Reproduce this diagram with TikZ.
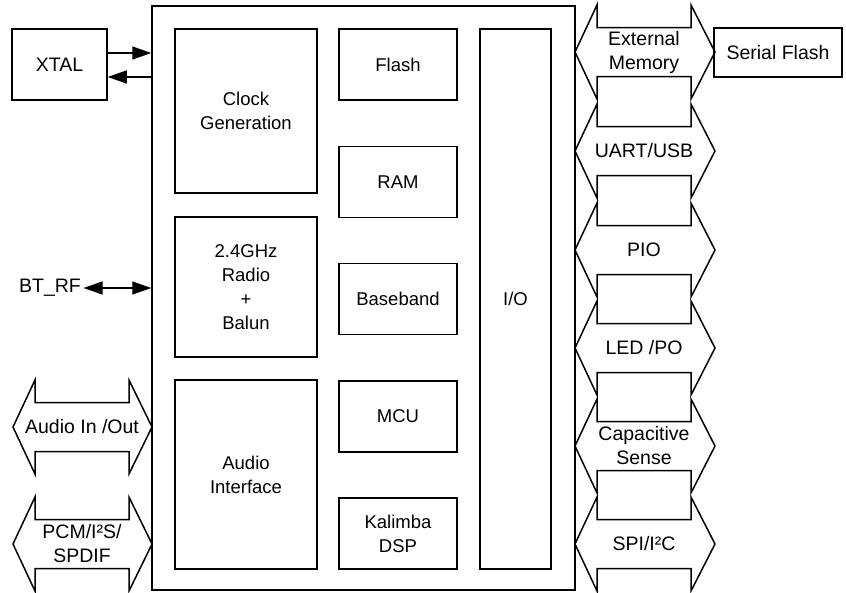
\documentclass[tikz,border=0pt]{standalone}
\usepackage{fontspec}
\setmainfont{Liberation Sans}
\usetikzlibrary{arrows.meta, positioning, calc}

\begin{document}
\begin{tikzpicture}[x=1pt, y=-1pt, line width=1.5pt,
        font=\fontsize{18.5}{24}\selectfont,
        blok/.style={draw, align=center, inner sep=0pt},
        bus/.style={draw, line join=miter},
        buslbl/.style={align=center, font=\fontsize{19.5}{24}\selectfont},
        tip/.style={-{Triangle[length=19pt, width=13pt]}},
        dtip/.style={{Triangle[length=19pt, width=13pt]}-{Triangle[length=19pt, width=13pt]}}]
        \useasboundingbox (0,0) rectangle (846,592);
        \node[blok, minimum width=423pt, minimum height=584pt] (chip) at (363.5,298) {};
        \node[blok, minimum width=142pt, minimum height=164pt] (clock) at (246,111) {Clock\\Generation};
        \node[blok, minimum width=142pt, minimum height=140pt] (radio) at (246,287) {2.4GHz\\Radio\\+\\Balun};
        \node[blok, minimum width=142pt, minimum height=189pt] (audio) at (246,474.5) {Audio\\Interface};
        \foreach \y/\lbl/\nm in {64.5/Flash/flash, 181.75/RAM/ram, 299/Baseband/bb,
            416.25/MCU/mcu, 533.5/{Kalimba\\DSP}/dsp}
        {
            \node[blok, minimum width=118pt, minimum height=71pt] (\nm) at (398,\y) {\lbl};
        }
        \node[blok, minimum width=71pt, minimum height=540pt] (io) at (515.5,299) {I/O};
        \node[blok, buslbl, minimum width=95pt, minimum height=71pt] (xtal) at (59.5,64.5) {XTAL};
        \node[blok, buslbl, minimum width=128pt, minimum height=49pt] (sflash) at (778,52.5) {Serial Flash};
        \draw[tip] ([yshift=11.5pt]xtal.east) -- ([yshift=11.5pt]xtal.east -| chip.west);
        \draw[tip] ([yshift=-12.5pt]xtal.east -| chip.west) -- ([yshift=-12.5pt]xtal.east);
        \node[buslbl, inner sep=2pt] (btrf) at (50,288) {BT\_RF};
        \draw[dtip] (btrf.east) -- (btrf.east -| chip.west);
        \foreach \y/\lbl/\nm in {52/{External\\Memory}/extmem, 151/{UART/USB}/uart,
            250/PIO/pio, 348/{LED /PO}/led, 446/{Capacitive\\Sense}/cap, 544/{SPI/I²C}/spi}
        {
            \draw[bus] (575,\y) -- (597,\y-47) -- (597,\y-24.5) -- (691,\y-24.5) -- (691,\y-47)
                -- (715,\y) -- (691,\y+47) -- (691,\y+24.5) -- (597,\y+24.5) -- (597,\y+47) -- cycle;
            \node[buslbl] (\nm) at (644,\y) {\lbl};
        }
        \foreach \y/\lbl/\nm in {427/{Audio In /Out}/aio, 544/{PCM/I²S/\\SPDIF}/pcm}
        {
            \draw[bus] (13,\y) -- (35,\y-47) -- (35,\y-24.5) -- (129,\y-24.5) -- (129,\y-47)
                -- (152,\y) -- (129,\y+47) -- (129,\y+24.5) -- (35,\y+24.5) -- (35,\y+47) -- cycle;
            \node[buslbl] (\nm) at (82,\y) {\lbl};
        }
    \end{tikzpicture}
\end{document}
